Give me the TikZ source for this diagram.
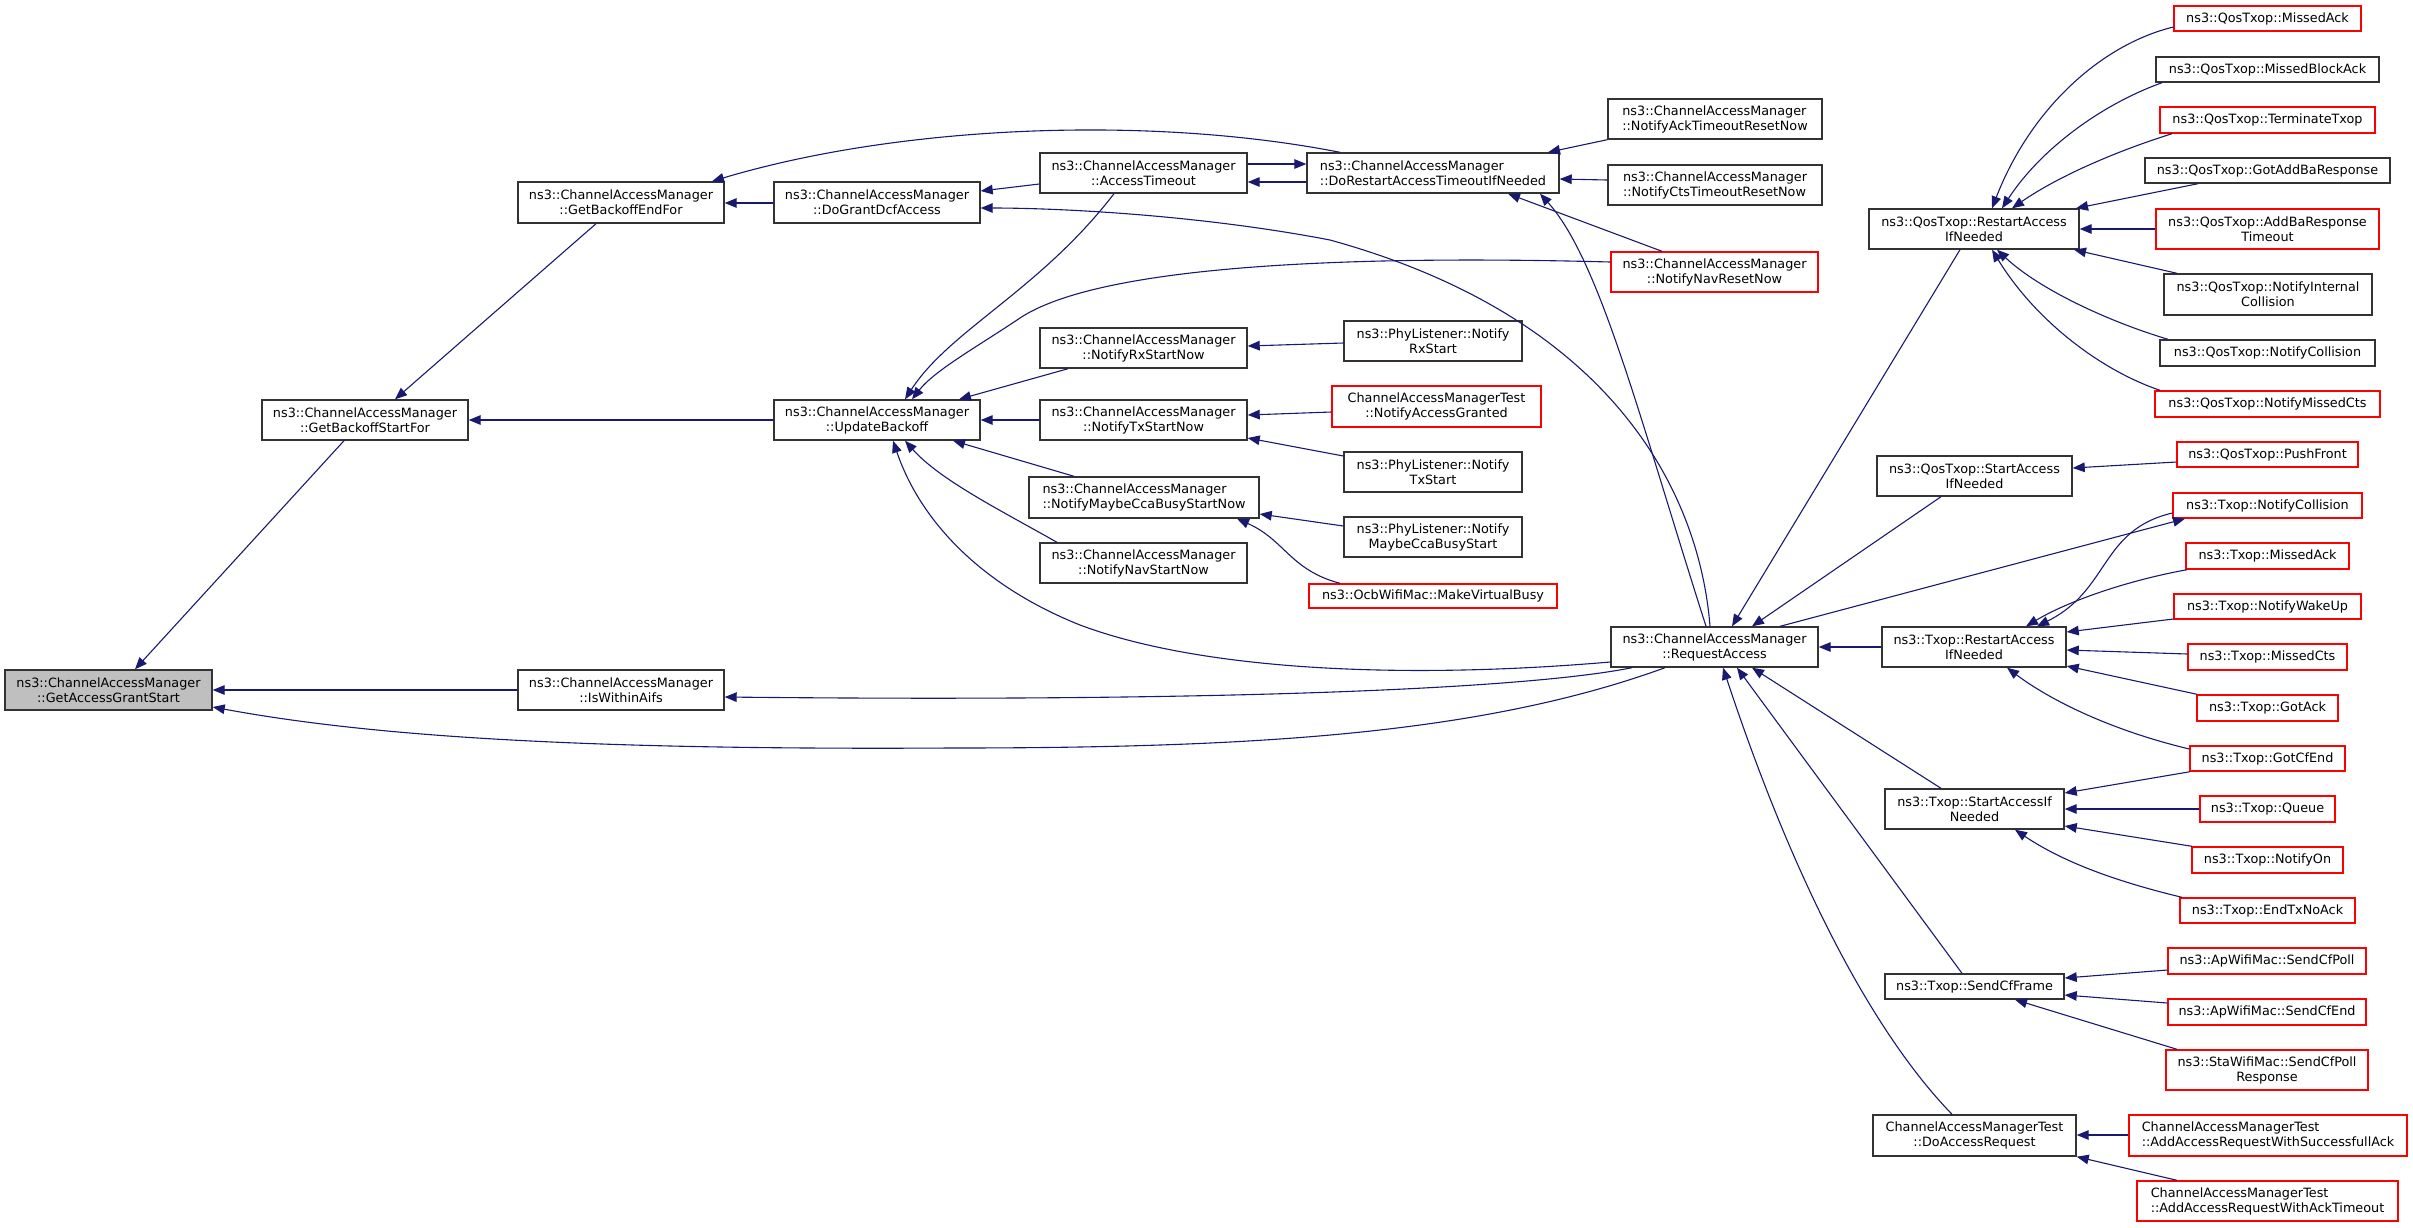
\documentclass[tikz,border=0pt]{standalone}
\usepackage{fontspec}
\setmainfont{DejaVu Sans}
\usetikzlibrary{arrows.meta}
\definecolor{edgec}{HTML}{191970}
\definecolor{bord}{HTML}{333333}
\definecolor{rootf}{HTML}{BFBFBF}
\tikzset{
  box/.style={draw=bord, line width=0.7pt, fill=white, inner sep=0pt, align=center,
    font=\fontsize{6.4}{7.5}\selectfont},
  lbox/.style={box, align=left},
  rbox/.style={box, draw=red},
  rlbox/.style={rbox, align=left},
  root/.style={box, fill=rootf},
  e/.style={draw=edgec, line width=0.55pt, -{Triangle[length=6pt,width=4.8pt]}, fill=none}
}
\newcommand\bx[7]{\node[#1, minimum width={(#5-#3)*0.5pt}, minimum height={(#6-#4)*0.5pt}] (#2) at ({(#3+#5)/2},{(#4+#6)/2}) {#7};}
\begin{document}
\begin{tikzpicture}[x=0.5pt,y=-0.5pt]
\useasboundingbox (0,0) rectangle (2413,1227);
% ---- nodes ----
\bx{root}{gags}{5}{670}{212}{710}{ns3::ChannelAccessManager\\::GetAccessGrantStart}
\bx{box}{gbsf}{262}{400}{468}{440}{ns3::ChannelAccessManager\\::GetBackoffStartFor}
\bx{box}{gbef}{518}{182}{724}{223}{ns3::ChannelAccessManager\\::GetBackoffEndFor}
\bx{box}{iwa}{518}{670}{724}{710}{ns3::ChannelAccessManager\\::IsWithinAifs}
\bx{box}{dgda}{774}{182}{980}{223}{ns3::ChannelAccessManager\\::DoGrantDcfAccess}
\bx{box}{ub}{774}{400}{980}{440}{ns3::ChannelAccessManager\\::UpdateBackoff}
\bx{box}{at}{1040}{153}{1247}{193}{ns3::ChannelAccessManager\\::AccessTimeout}
\bx{lbox}{drat}{1307}{153}{1559}{193}{ns3::ChannelAccessManager\\::DoRestartAccessTimeoutIfNeeded}
\bx{box}{nrx}{1040}{328}{1247}{368}{ns3::ChannelAccessManager\\::NotifyRxStartNow}
\bx{box}{ntx}{1040}{400}{1247}{440}{ns3::ChannelAccessManager\\::NotifyTxStartNow}
\bx{lbox}{ncca}{1029}{477}{1259}{518}{ns3::ChannelAccessManager\\::NotifyMaybeCcaBusyStartNow}
\bx{box}{nnav}{1040}{543}{1247}{583}{ns3::ChannelAccessManager\\::NotifyNavStartNow}
\bx{box}{plrx}{1344}{321}{1522}{361}{ns3::PhyListener::Notify\\RxStart}
\bx{rbox}{camna}{1332}{386}{1541}{427}{ChannelAccessManagerTest\\::NotifyAccessGranted}
\bx{box}{pltx}{1344}{452}{1522}{492}{ns3::PhyListener::Notify\\TxStart}
\bx{box}{plcca}{1344}{517}{1522}{557}{ns3::PhyListener::Notify\\MaybeCcaBusyStart}
\bx{rbox}{mvb}{1309}{584}{1557}{608}{ns3::OcbWifiMac::MakeVirtualBusy}
\bx{lbox}{nack}{1608}{99}{1822}{139}{ns3::ChannelAccessManager\\::NotifyAckTimeoutResetNow}
\bx{lbox}{ncts}{1608}{165}{1822}{205}{ns3::ChannelAccessManager\\::NotifyCtsTimeoutResetNow}
\bx{rbox}{nnr}{1611}{252}{1818}{292}{ns3::ChannelAccessManager\\::NotifyNavResetNow}
\bx{box}{ra}{1611}{627}{1818}{667}{ns3::ChannelAccessManager\\::RequestAccess}
\bx{box}{qrain}{1869}{209}{2079}{249}{ns3::QosTxop::RestartAccess\\IfNeeded}
\bx{box}{qsain}{1877}{456}{2072}{496}{ns3::QosTxop::StartAccess\\IfNeeded}
\bx{box}{train}{1882}{627}{2066}{667}{ns3::Txop::RestartAccess\\IfNeeded}
\bx{box}{tsain}{1885}{789}{2064}{829}{ns3::Txop::StartAccessIf\\Needed}
\bx{box}{tscf}{1885}{974}{2064}{999}{ns3::Txop::SendCfFrame}
\bx{box}{dar}{1873}{1115}{2076}{1156}{ChannelAccessManagerTest\\::DoAccessRequest}
\bx{rbox}{qma}{2174}{6}{2361}{31}{ns3::QosTxop::MissedAck}
\bx{box}{qmba}{2156}{57}{2379}{82}{ns3::QosTxop::MissedBlockAck}
\bx{rbox}{qtt}{2160}{107}{2375}{133}{ns3::QosTxop::TerminateTxop}
\bx{box}{qgabr}{2145}{158}{2390}{183}{ns3::QosTxop::GotAddBaResponse}
\bx{rbox}{qabrt}{2156}{209}{2379}{249}{ns3::QosTxop::AddBaResponse\\Timeout}
\bx{box}{qnic}{2164}{274}{2372}{315}{ns3::QosTxop::NotifyInternal\\Collision}
\bx{box}{qnc}{2160}{340}{2375}{366}{ns3::QosTxop::NotifyCollision}
\bx{rbox}{qnmc}{2155}{391}{2380}{417}{ns3::QosTxop::NotifyMissedCts}
\bx{rbox}{qpf}{2177}{442}{2358}{467}{ns3::QosTxop::PushFront}
\bx{rbox}{tnc}{2173}{493}{2362}{518}{ns3::Txop::NotifyCollision}
\bx{rbox}{tma}{2186}{543}{2349}{569}{ns3::Txop::MissedAck}
\bx{rbox}{tnwu}{2174}{594}{2361}{619}{ns3::Txop::NotifyWakeUp}
\bx{rbox}{tmc}{2188}{644}{2347}{670}{ns3::Txop::MissedCts}
\bx{rbox}{tga}{2197}{695}{2338}{721}{ns3::Txop::GotAck}
\bx{rbox}{tgce}{2190}{746}{2345}{771}{ns3::Txop::GotCfEnd}
\bx{rbox}{tq}{2200}{796}{2335}{822}{ns3::Txop::Queue}
\bx{rbox}{tno}{2192}{847}{2343}{873}{ns3::Txop::NotifyOn}
\bx{rbox}{tetna}{2180}{898}{2355}{923}{ns3::Txop::EndTxNoAck}
\bx{rbox}{scp}{2168}{948}{2366}{974}{ns3::ApWifiMac::SendCfPoll}
\bx{rbox}{sce}{2168}{999}{2366}{1025}{ns3::ApWifiMac::SendCfEnd}
\bx{rbox}{sscp}{2166}{1050}{2368}{1090}{ns3::StaWifiMac::SendCfPoll\\Response}
\bx{rlbox}{aarsa}{2129}{1115}{2407}{1156}{ChannelAccessManagerTest\\::AddAccessRequestWithSuccessfullAck}
\bx{rlbox}{aarat}{2137}{1181}{2398}{1221}{ChannelAccessManagerTest\\::AddAccessRequestWithAckTimeout}
% ---- edges ----
\draw[e] (gbsf.south -| 344,0) -- (gags.north -| 135,0);
\draw[e] (iwa.west |- 0,690) -- (gags.east |- 0,690);
\draw[e] (ra.south -| 1665,0) .. controls (1480,735) and (1250,748) .. (950,748) .. controls (600,750) and (380,738) .. (gags.east |- 0,707);
\draw[e] (gbef.south -| 596,0) -- (gbsf.north -| 395,0);
\draw[e] (ub.west |- 0,420) -- (gbsf.east |- 0,420);
\draw[e] (dgda.west |- 0,203) -- (gbef.east |- 0,203);
\draw[e] (drat.north -| 1340,0) .. controls (1150,115) and (900,125) .. (gbef.north -| 712,0);
\draw[e] (at.west |- 0,184) -- (dgda.east |- 0,191);
\draw[e] (ra.north -| 1710,0) .. controls (1700,500) and (1620,320) .. (1330,240) .. controls (1200,215) and (1060,208) .. (dgda.east |- 0,208);
\draw[e] (at.east |- 0,164) -- (drat.west |- 0,164);
\draw[e] (drat.west |- 0,182) -- (at.east |- 0,182);
\draw[e] (nack.south west) -- (drat.north -| 1548,0);
\draw[e] (ncts.west |- 0,180) -- (drat.east |- 0,179);
\draw[e] (nnr.north -| 1662,0) -- (drat.south -| 1508,0);
\draw[e] (ra.north -| 1706,0) .. controls (1640,420) and (1600,260) .. (drat.south -| 1540,0);
\draw[e] (at.south -| 1114,0) .. controls (1040,290) and (950,330) .. (ub.north -| 905,0);
\draw[e] (nnr.west |- 0,262) .. controls (1350,255) and (1100,265) .. (1020,318) .. controls (980,345) and (935,370) .. (ub.north -| 912,0);
\draw[e] (nrx.south -| 1068,0) -- (ub.north -| 959,0);
\draw[e] (ntx.west |- 0,420) -- (ub.east |- 0,420);
\draw[e] (ncca.north -| 1074,0) -- (ub.south -| 953,0);
\draw[e] (nnav.north -| 1057,0) .. controls (1000,510) and (940,480) .. (ub.south -| 905,0);
\draw[e] (ra.west |- 0,662) .. controls (1400,680) and (1200,670) .. (1080,625) .. controls (980,585) and (920,520) .. (ub.south -| 893,0);
\draw[e] (ra.south -| 1632,0) .. controls (1520,690) and (1200,702) .. (iwa.east |- 0,697);
\draw[e] (plrx.west |- 0,343) -- (nrx.east |- 0,346);
\draw[e] (camna.west |- 0,412) -- (ntx.east |- 0,415);
\draw[e] (pltx.west |- 0,456) -- (ntx.east |- 0,438);
\draw[e] (plcca.west |- 0,526) -- (ncca.east |- 0,514);
\draw[e] (mvb.north -| 1340,0) .. controls (1290,570) and (1285,540) .. (ncca.south -| 1237,0);
% right part
\draw[e] (qrain.south -| 1960,0) -- (ra.north -| 1732,0);
\draw[e] (qsain.south -| 1941,0) -- (ra.north -| 1752,0);
\draw[e] (ra.north -| 1780,0) -- (tnc.south -| 2185,0);
\draw[e] (train.west |- 0,647) -- (ra.east |- 0,647);
\draw[e] (tsain.north -| 1941,0) -- (ra.south -| 1752,0);
\draw[e] (tscf.north -| 1962,0) -- (ra.south -| 1737,0);
\draw[e] (dar.north -| 1952,0) .. controls (1880,1040) and (1800,900) .. (ra.south -| 1723,0);
\draw[e] (qma.west |- 0,27) .. controls (2100,45) and (2030,110) .. (qrain.north -| 1992,0);
\draw[e] (qmba.south -| 2162,0) .. controls (2100,105) and (2040,150) .. (qrain.north -| 2002,0);
\draw[e] (qtt.south -| 2172,0) .. controls (2120,150) and (2060,175) .. (qrain.north -| 2012,0);
\draw[e] (qgabr.south -| 2198,0) -- (qrain.north -| 2076,0);
\draw[e] (qabrt.west |- 0,229) -- (qrain.east |- 0,229);
\draw[e] (qnic.north -| 2177,0) -- (qrain.south -| 2074,0);
\draw[e] (qnc.north -| 2168,0) .. controls (2110,322) and (2040,290) .. (qrain.south -| 1997,0);
\draw[e] (qnmc.north -| 2160,0) .. controls (2100,370) and (2035,320) .. (qrain.south -| 1992,0);
\draw[e] (qpf.west |- 0,462) -- (qsain.east |- 0,468);
\draw[e] (tnc.west |- 0,513) .. controls (2100,530) and (2110,590) .. (train.north -| 2037,0);
\draw[e] (tma.south -| 2187,0) .. controls (2130,580) and (2070,600) .. (train.north -| 2026,0);
\draw[e] (tnwu.west |- 0,619) -- (train.east |- 0,632);
\draw[e] (tmc.west |- 0,654) -- (train.east |- 0,650);
\draw[e] (tga.north -| 2197,0) -- (train.east |- 0,666);
\draw[e] (tgce.west |- 0,749) .. controls (2110,730) and (2050,700) .. (train.south -| 2007,0);
\draw[e] (tgce.south -| 2190,0) -- (tsain.east |- 0,793);
\draw[e] (tq.west |- 0,809) -- (tsain.east |- 0,809);
\draw[e] (tno.north -| 2192,0) -- (tsain.east |- 0,826);
\draw[e] (tetna.north -| 2182,0) .. controls (2110,880) and (2060,860) .. (tsain.south -| 2015,0);
\draw[e] (scp.west |- 0,970) -- (tscf.east |- 0,978);
\draw[e] (sce.west |- 0,1003) -- (tscf.east |- 0,995);
\draw[e] (sscp.north -| 2177,0) -- (tscf.south -| 2015,0);
\draw[e] (aarsa.west |- 0,1135) -- (dar.east |- 0,1135);
\draw[e] (aarat.north -| 2177,0) -- (dar.south east);
\end{tikzpicture}
\end{document}
